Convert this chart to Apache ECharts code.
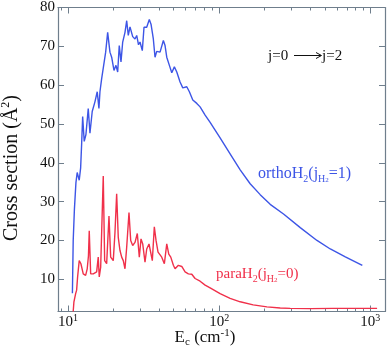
<!DOCTYPE html>
<html><head><meta charset="utf-8">
<script src="https://cdn.jsdelivr.net/npm/echarts@6/dist/echarts.min.js"></script>
<style>html,body{margin:0;padding:0;background:#fff}#c{width:387px;height:351px}</style>
</head><body><div id="c"></div>
<script>
// ---- data ----
const orthoE = [10.71, 10.84, 11.04, 11.30, 11.52, 11.70, 11.88, 12.14, 12.33, 12.52, 12.82, 13.16, 13.63, 13.99, 14.48, 15.09, 15.63, 16.04, 16.29, 16.72, 17.13, 17.77, 18.32, 18.97, 19.47, 20.17, 20.79, 21.34, 21.86, 22.44, 23.03, 23.85, 24.48, 25.08, 25.74, 26.82, 27.78, 28.51, 29.30, 29.98, 31.05, 31.86, 33.20, 34.54, 35.45, 36.72, 37.68, 38.67, 40.68, 42.78, 43.90, 45.05, 46.88, 48.63, 50.58, 52.48, 55.17, 57.50, 61.11, 63.58, 66.96, 71.17, 74.85, 80.79, 87.20, 101.5, 118.2, 137.8, 160.4, 186.9, 217.6, 266.6, 343.9, 443.6, 543.5, 683.1, 885.1];
const orthoS = [6.4, 20, 28, 34.9, 37.5, 36.5, 35.5, 38.7, 45, 51.9, 45.5, 47.3, 54.0, 47.6, 53.2, 55.7, 58.3, 54.0, 58.3, 61.7, 61.3, 68.5, 73.6, 68.5, 67.2, 63.8, 65.1, 63.4, 70.2, 66.0, 71.1, 73.6, 76.6, 72.8, 75.0, 72.5, 71.9, 72.8, 70.4, 71.1, 68.9, 74.9, 74.9, 76.9, 75.7, 71.9, 67.2, 68.7, 68.5, 71.5, 70.2, 67.2, 65.1, 63.2, 64.7, 63.4, 60.8, 59.3, 59.6, 58.3, 56.2, 55.3, 54.4, 52.3, 50.4, 46.4, 42.3, 38.2, 34.6, 31.8, 29.3, 26.8, 23.3, 20.0, 17.8, 15.8, 13.6];
const paraE = [10.84, 10.96, 11.25, 11.42, 11.59, 11.88, 12.19, 12.63, 13.10, 13.42, 13.67, 13.84, 14.14, 14.71, 15.49, 15.87, 16.12, 16.47, 16.87, 17.13, 17.50, 18.04, 18.69, 19.18, 19.95, 20.48, 21.01, 21.53, 22.10, 22.68, 23.24, 23.85, 24.48, 25.35, 26.02, 26.82, 27.78, 28.77, 29.66, 30.44, 31.24, 32.35, 33.20, 34.38, 35.29, 36.16, 37.28, 38.26, 39.45, 41.74, 43.43, 45.05, 46.45, 47.89, 49.83, 51.13, 53.77, 56.62, 59.55, 62.62, 65.95, 69.36, 74.85, 80.79, 87.20, 101.5, 118.2, 137.8, 168.0, 207.0, 253.5, 295.3, 400.6, 568.9, 795.6, 1108];
const paraS = [1.7, 4.2, 6.3, 7.2, 10.6, 14.8, 14.0, 11.4, 11.0, 12.7, 16, 22.5, 11.4, 11.4, 11.9, 15.7, 10.6, 13.1, 13.6, 36.6, 14.8, 14.0, 26.3, 15.7, 14.8, 22.1, 32.0, 20.8, 17.4, 15.7, 14.8, 12.7, 18.3, 27.2, 20.0, 18.7, 19.5, 21.8, 15.7, 20.4, 19.1, 14.4, 17.8, 19.1, 18.7, 14.8, 23.5, 20.0, 17.0, 15.7, 14.0, 19.1, 16.5, 15.7, 13.6, 12.7, 13.6, 13.3, 11.9, 11.4, 11.3, 10.2, 9.5, 8.5, 7.8, 6.3, 5.1, 4.2, 3.4, 2.9, 2.6, 2.5, 2.45, 2.5, 2.5, 2.5];
const xMajorTicks = [10, 100, 1000];
const xMajorExp = ['1', '2', '3'];
const xMinorTicks = [9, 20, 30, 40, 50, 60, 70, 80, 90, 200, 300, 400, 500, 600, 700, 800, 900];
const yTicks = [10, 20, 30, 40, 50, 60, 70, 80];
const xMin = 8.6, xMax = 1250, yMin = 1.7, yMax = 80;

// ---- styling ----
const FONT = 'Liberation Serif';
const AX = '#6f7e8c';
const TXT = '#111';
const BLUE = '#3d55e6';
const RED = '#f0304a';

function zip(a, b) { const n = Math.min(a.length, b.length); const r = []; for (let i = 0; i < n; i++) r.push([a[i], b[i]]); return r; }

function xAxisDef(pos, major) {
  return {
    type: 'log', position: pos, min: xMin, max: xMax, gridIndex: 0,
    axisLine: { show: major, onZero: false, lineStyle: { color: AX, width: 1.2 } },
    axisTick: { show: true, inside: true, length: major ? 6 : 3, customValues: major ? xMajorTicks : xMinorTicks, lineStyle: { color: AX, width: 1 } },
    axisLabel: (major && pos === 'bottom') ? {
      show: true, margin: 2, customValues: xMajorTicks,
      formatter: function (v) {
        let i = xMajorTicks.indexOf(Math.round(v));
        if (i < 0) return '';
        return '{b|10}{sup|' + xMajorExp[i] + '}';
      },
      rich: {
        b: { fontSize: 15, fontFamily: FONT, color: TXT, lineHeight: 18 },
        sup: { fontSize: 10, fontFamily: FONT, color: TXT, lineHeight: 10, verticalAlign: 'top' }
      }
    } : { show: false },
    splitLine: { show: false }, minorTick: { show: false }
  };
}
function yAxisDef(pos, withLabel) {
  return {
    type: 'value', position: pos, min: yMin, max: yMax, gridIndex: 0,
    axisLine: { show: true, onZero: false, lineStyle: { color: AX, width: 1.2 } },
    axisTick: { show: true, inside: true, length: 6, customValues: yTicks, lineStyle: { color: AX, width: 1 } },
    axisLabel: withLabel ? { show: true, margin: 3, customValues: yTicks, fontSize: 15, fontFamily: FONT, color: TXT } : { show: false },
    splitLine: { show: false }
  };
}

const chart = echarts.init(document.getElementById('c'), null, { renderer: 'canvas' });
chart.setOption({
  animation: false,
  backgroundColor: '#fff',
  grid: { left: 58, right: 2, top: 5, bottom: 39.5, containLabel: false },
  xAxis: [xAxisDef('bottom', true), xAxisDef('top', true), xAxisDef('bottom', false), xAxisDef('top', false)],
  yAxis: [yAxisDef('left', true), yAxisDef('right', false)],
  series: [
    { name: 'orthoH2', type: 'line', xAxisIndex: 0, yAxisIndex: 0, data: zip(orthoE, orthoS), showSymbol: false, symbol: 'none', clip: true,
      lineStyle: { color: BLUE, width: 1.4 } },
    { name: 'paraH2', type: 'line', xAxisIndex: 0, yAxisIndex: 0, data: zip(paraE, paraS), showSymbol: false, symbol: 'none', clip: true,
      lineStyle: { color: RED, width: 1.4 } }
  ],
  graphic: { elements: [
    { type: 'text', x: 12, y: 168, rotation: Math.PI / 2,
      style: { text: '{a|Cross section (Å}{sup|2}{a|)}', textAlign: 'center', textVerticalAlign: 'middle',
        rich: { a: { fontSize: 20, fontFamily: FONT, fill: TXT, lineHeight: 24 },
                sup: { fontSize: 12, fontFamily: FONT, fill: TXT, lineHeight: 12, verticalAlign: 'top' } } } },
    { type: 'text', x: 205, y: 338,
      style: { text: '{a|E}{sub|c}{a| (cm}{sup|-1}{a|)}', textAlign: 'center', textVerticalAlign: 'middle',
        rich: { a: { fontSize: 17, fontFamily: FONT, fill: TXT, lineHeight: 20 },
                sub: { fontSize: 11, fontFamily: FONT, fill: TXT, lineHeight: 9, verticalAlign: 'bottom' },
                sup: { fontSize: 11, fontFamily: FONT, fill: TXT, lineHeight: 10, verticalAlign: 'top' } } } },
    { type: 'text', x: 268, y: 56, style: { text: 'j=0', fontSize: 15, fontFamily: FONT, fill: TXT, textAlign: 'left', textVerticalAlign: 'middle' } },
    { type: 'line', shape: { x1: 294, y1: 55.5, x2: 321, y2: 55.5 }, style: { stroke: TXT, lineWidth: 1 } },
    { type: 'polyline', shape: { points: [[316, 52.5], [321.5, 55.5], [316, 58.5]] }, style: { stroke: TXT, fill: null, lineWidth: 1 } },
    { type: 'text', x: 322, y: 56, style: { text: 'j=2', fontSize: 15, fontFamily: FONT, fill: TXT, textAlign: 'left', textVerticalAlign: 'middle' } },
    { type: 'text', x: 258, y: 174,
      style: { text: '{a|orthoH}{s1|2}{a|(j}{s1|H}{s2|2}{a|=1)}', textAlign: 'left', textVerticalAlign: 'middle',
        rich: { a: { fontSize: 16, fontFamily: FONT, fill: BLUE, lineHeight: 20 },
                s1: { fontSize: 10, fontFamily: FONT, fill: BLUE, lineHeight: 10, verticalAlign: 'bottom' },
                s2: { fontSize: 7, fontFamily: FONT, fill: BLUE, lineHeight: 5, verticalAlign: 'bottom' } } } },
    { type: 'text', x: 216, y: 274,
      style: { text: '{a|paraH}{s1|2}{a|(j}{s1|H}{s2|2}{a|=0)}', textAlign: 'left', textVerticalAlign: 'middle',
        rich: { a: { fontSize: 15, fontFamily: FONT, fill: RED, lineHeight: 20 },
                s1: { fontSize: 10, fontFamily: FONT, fill: RED, lineHeight: 10, verticalAlign: 'bottom' },
                s2: { fontSize: 7, fontFamily: FONT, fill: RED, lineHeight: 5, verticalAlign: 'bottom' } } } }
  ] }
});
</script>
</body></html>
